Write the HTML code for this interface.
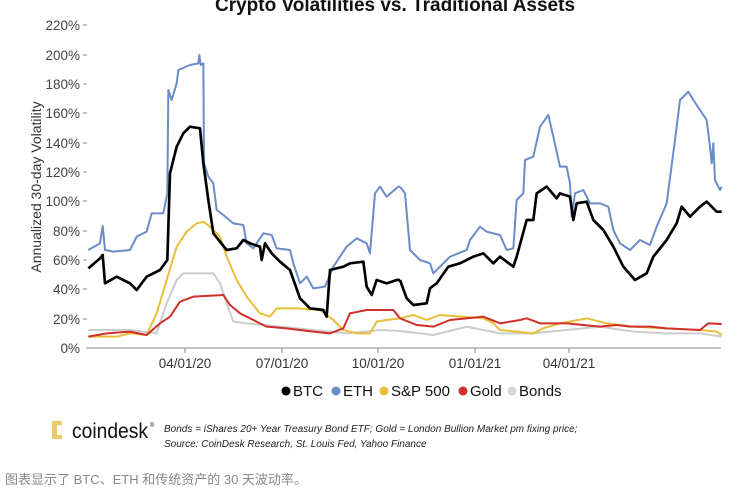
<!DOCTYPE html>
<html><head><meta charset="utf-8"><style>
body{margin:0;background:#fff;width:750px;height:490px;overflow:hidden;font-family:"Liberation Sans","Noto Sans CJK SC",sans-serif;}
</style></head><body>
<svg width="750" height="490" xmlns="http://www.w3.org/2000/svg" font-family="Liberation Sans, Noto Sans CJK SC, sans-serif">
<text x="395" y="11" text-anchor="middle" font-size="19" font-weight="bold" fill="#111">Crypto Volatilities vs. Traditional Assets</text>
<g font-size="13.5" fill="#444" text-anchor="end">
<text x="80" y="353">0%</text><text x="80" y="324">20%</text><text x="80" y="294">40%</text><text x="80" y="265">60%</text><text x="80" y="236">80%</text><text x="80" y="206">100%</text><text x="80" y="177">120%</text><text x="80" y="148">140%</text><text x="80" y="118">160%</text><text x="80" y="89">180%</text><text x="80" y="60">200%</text><text x="80" y="30">220%</text>
</g>
<g stroke="#888" stroke-width="1">
<line x1="83" x2="87" y1="25" y2="25"/><line x1="83" x2="87" y1="55" y2="55"/><line x1="83" x2="87" y1="84" y2="84"/><line x1="83" x2="87" y1="113" y2="113"/><line x1="83" x2="87" y1="143" y2="143"/><line x1="83" x2="87" y1="172" y2="172"/><line x1="83" x2="87" y1="201" y2="201"/><line x1="83" x2="87" y1="231" y2="231"/><line x1="83" x2="87" y1="260" y2="260"/><line x1="83" x2="87" y1="289" y2="289"/><line x1="83" x2="87" y1="319" y2="319"/>
<line x1="86" x2="721" y1="348" y2="348"/>
<line x1="185" x2="185" y1="348" y2="353"/><line x1="282" x2="282" y1="348" y2="353"/><line x1="378" x2="378" y1="348" y2="353"/><line x1="475" x2="475" y1="348" y2="353"/><line x1="569" x2="569" y1="348" y2="353"/>
</g>
<g font-size="13.5" fill="#333" text-anchor="middle">
<text x="185" y="368">04/01/20</text><text x="282" y="368">07/01/20</text><text x="378" y="368">10/01/20</text><text x="475" y="368">01/01/21</text><text x="569" y="368">04/01/21</text>
</g>
<text transform="translate(41,187) rotate(-90)" text-anchor="middle" font-size="14" fill="#333">Annualized 30-day Volatility</text>
<g fill="none" stroke-linejoin="round">
<g transform="translate(80,50) scale(0.33333)">
<polyline stroke="#ccc" stroke-width="6" points="25,840 150,840 230,850 260,760 290,690 310,670 400,670 420,700 440,760 460,815 500,820 600,830 700,840 800,850 900,840 960,843"/>
<polyline stroke="#e8bf3a" stroke-width="6" points="25,860 110,860 150,850 200,855 230,790 260,690 290,590 320,545 350,520 370,515 390,530 420,560 440,620 470,690 500,740 540,790 570,800 590,775 650,775 720,780 760,810 790,840 830,850 870,850 890,815 920,810 960,805"/>
<polyline stroke="#d0302a" stroke-width="6" points="25,860 80,850 150,845 200,855 240,820 270,800 300,755 340,740 430,735 450,765 480,790 520,810 560,830 620,835 700,845 750,850 790,835 810,790 860,780 940,780 960,805"/>
<polyline stroke="#6a8cc8" stroke-width="6" points="25,600 60,580 68,528 75,600 100,605 150,600 170,560 200,545 215,490 250,490 262,430 265,120 275,150 290,100 295,60 330,45 355,40 358,15 362,45 370,40 372,340 385,380 400,400 410,480 430,495 460,520 490,525 500,580 520,595 550,550 575,555 590,595 630,600 640,640 660,700 680,680 700,715 735,710 760,650 800,590 830,565 860,580 870,610 885,430 900,410 920,440 955,410 960,410"/>
<polyline stroke="#000" stroke-width="8" points="25,655 60,625 68,615 75,700 110,680 150,700 170,720 200,680 240,660 262,630 270,370 290,290 310,250 330,230 360,235 370,340 385,450 400,550 420,575 440,600 470,595 490,570 510,580 540,590 545,630 555,580 575,610 600,635 630,660 660,745 690,775 730,780 740,800 750,660 790,650 810,640 850,635 860,710 875,735 890,690 920,700 950,690 960,690"/>
</g>
<g transform="translate(400,50) scale(0.33333)">
<polyline stroke="#ccc" stroke-width="6" points="0,843 100,855 200,830 300,850 400,850 500,840 600,830 700,845 800,850 900,850 965,860"/>
<polyline stroke="#e8bf3a" stroke-width="6" points="0,805 40,795 80,810 120,795 250,805 280,820 300,840 400,850 430,835 480,820 560,805 620,820 700,830 800,835 900,840 950,845 965,855"/>
<polyline stroke="#d0302a" stroke-width="6" points="0,805 50,825 100,830 150,810 250,800 300,820 360,810 380,805 420,820 500,820 550,825 600,830 650,825 690,830 750,830 800,835 900,840 925,820 965,822"/>
<polyline stroke="#6a8cc8" stroke-width="6" points="0,410 15,430 30,600 60,630 90,640 100,670 120,650 150,620 200,600 210,570 240,530 260,545 300,555 320,600 340,595 350,450 370,430 375,330 400,320 420,230 445,195 460,260 480,350 500,350 510,400 515,500 525,430 550,420 570,460 600,460 625,470 640,540 660,580 690,600 720,570 750,585 770,530 800,460 825,270 840,150 865,125 880,150 900,180 920,210 930,290 935,340 940,280 945,390 960,420 965,410"/>
<polyline stroke="#000" stroke-width="8" points="0,690 20,745 40,765 80,760 90,715 110,700 145,650 180,640 220,620 250,610 280,640 300,620 340,650 350,620 380,510 400,510 410,430 440,410 470,445 480,430 510,440 520,510 530,460 560,455 580,510 610,540 640,590 670,650 705,690 740,670 760,620 800,570 830,520 845,470 870,500 900,470 920,455 950,485 965,485"/>
</g>
</g>
<g font-size="15" fill="#111">
<circle cx="286" cy="391" r="4.5" fill="#000"/><text x="293" y="396">BTC</text>
<circle cx="336" cy="391" r="4.5" fill="#6a8cc8"/><text x="343" y="396">ETH</text>
<circle cx="384" cy="391" r="4.5" fill="#e8bf3a"/><text x="391" y="396">S&amp;P 500</text>
<circle cx="463" cy="391" r="4.5" fill="#d0302a"/><text x="470" y="396">Gold</text>
<circle cx="512" cy="391" r="4.5" fill="#d6d6d6"/><text x="519" y="396">Bonds</text>
</g>
<g fill="#e9c968">
<rect x="52" y="421" width="5" height="18"/><rect x="52" y="421" width="10" height="4"/><rect x="52" y="435" width="10" height="4"/>
</g>
<text x="72" y="438" font-size="21" fill="#111" textLength="76" lengthAdjust="spacingAndGlyphs">coindesk</text>
<text x="150" y="427" font-size="6" fill="#111">®</text>
<g font-size="10" font-style="italic" fill="#222">
<text x="164" y="432">Bonds = iShares 20+ Year Treasury Bond ETF;   Gold = London Bullion Market pm fixing price;</text>
<text x="164" y="447">Source: CoinDesk Research, St. Louis Fed, Yahoo Finance</text>
</g>
<text x="5" y="484" font-size="13" fill="#888">图表显示了 BTC、ETH 和传统资产的 30 天波动率。</text>
</svg>
</body></html>
